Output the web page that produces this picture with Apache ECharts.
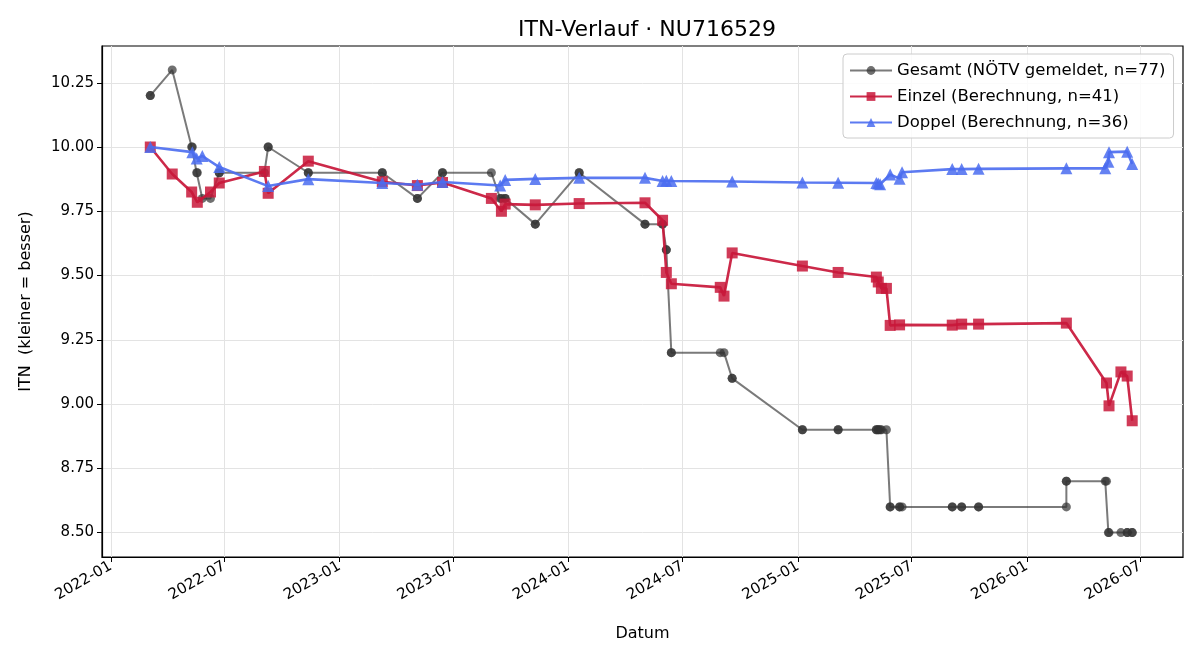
<!DOCTYPE html>
<html>
<head>
<meta charset="utf-8">
<title>ITN-Verlauf</title>
<script src="https://cdn.jsdelivr.net/npm/echarts@6/dist/echarts.min.js"></script>
<style>
    html,body{margin:0;padding:0;background:#fff;}
    #chart{width:1200px;height:660px;}
</style>
</head>
<body>
<div id="chart"></div>
<script>
// Gesamt (NÖTV gemeldet) - gleiche Termine mehrfach, weil Einzel und Doppel
var gesamtDaten = [
    ['2022-03-05',10.2],['2022-03-05',10.2],['2022-04-09',10.3],
    ['2022-05-10',10.0],['2022-05-11',10.0],['2022-05-18',9.9],['2022-05-19',9.9],
    ['2022-05-27',9.8],['2022-06-09',9.8],['2022-06-23',9.9],['2022-06-23',9.9],
    ['2022-09-03',9.9],['2022-09-09',10.0],['2022-09-09',10.0],
    ['2022-11-12',9.9],['2022-11-12',9.9],['2023-03-10',9.9],['2023-03-10',9.9],
    ['2023-05-05',9.8],['2023-05-05',9.8],['2023-06-14',9.9],['2023-06-14',9.9],
    ['2023-08-31',9.9],['2023-09-14',9.8],['2023-09-16',9.8],['2023-09-22',9.8],['2023-09-22',9.8],
    ['2023-11-09',9.7],['2023-11-09',9.7],['2024-01-18',9.9],['2024-01-18',9.9],
    ['2024-05-02',9.7],['2024-05-02',9.7],['2024-05-30',9.7],['2024-05-30',9.7],
    ['2024-06-05',9.6],['2024-06-05',9.6],['2024-06-13',9.2],['2024-06-13',9.2],
    ['2024-08-30',9.2],['2024-09-05',9.2],['2024-09-18',9.1],['2024-09-18',9.1],
    ['2025-01-08',8.9],['2025-01-08',8.9],['2025-03-06',8.9],['2025-03-06',8.9],
    ['2025-05-06',8.9],['2025-05-06',8.9],['2025-05-09',8.9],['2025-05-09',8.9],
    ['2025-05-12',8.9],['2025-05-14',8.9],['2025-05-22',8.9],
    ['2025-05-28',8.6],['2025-05-28',8.6],['2025-06-12',8.6],['2025-06-12',8.6],['2025-06-16',8.6],
    ['2025-09-04',8.6],['2025-09-04',8.6],['2025-09-19',8.6],['2025-09-19',8.6],
    ['2025-10-16',8.6],['2025-10-16',8.6],['2026-03-05',8.6],['2026-03-05',8.7],['2026-03-05',8.7],
    ['2026-05-06',8.7],['2026-05-08',8.7],['2026-05-11',8.5],['2026-05-12',8.5],
    ['2026-05-31',8.5],['2026-06-10',8.5],['2026-06-10',8.5],['2026-06-18',8.5],['2026-06-18',8.5]
];

// Einzel (Berechnung)
var einzelDatum = ['2022-03-05','2022-04-09','2022-05-10','2022-05-19','2022-06-09','2022-06-23',
    '2022-09-03','2022-09-09','2022-11-12','2023-03-10','2023-05-05','2023-06-14','2023-08-31',
    '2023-09-16','2023-09-22','2023-11-09','2024-01-18','2024-05-02','2024-05-30','2024-06-05',
    '2024-06-13','2024-08-30','2024-09-05','2024-09-18','2025-01-08','2025-03-06','2025-05-06',
    '2025-05-09','2025-05-14','2025-05-22','2025-05-28','2025-06-12','2025-09-04','2025-09-19',
    '2025-10-16','2026-03-05','2026-05-08','2026-05-12','2026-05-31','2026-06-10','2026-06-18'];
var einzelWert = [10.00,9.895,9.825,9.785,9.825,9.86,9.905,9.82,9.945,9.865,9.85,9.862,9.80,
    9.75,9.778,9.775,9.78,9.783,9.715,9.512,9.468,9.454,9.42,9.588,9.537,9.512,9.494,
    9.475,9.45,9.45,9.306,9.308,9.307,9.311,9.311,9.315,9.082,8.993,9.125,9.109,8.935];

// Doppel (Berechnung)
var doppelDatum = ['2022-03-05','2022-05-11','2022-05-18','2022-05-27','2022-06-23','2022-09-09',
    '2022-11-12','2023-03-10','2023-05-05','2023-06-14','2023-09-14','2023-09-22','2023-11-09',
    '2024-01-18','2024-05-02','2024-05-30','2024-06-05','2024-06-13','2024-09-18','2025-01-08',
    '2025-03-06','2025-05-06','2025-05-09','2025-05-12','2025-05-28','2025-06-12','2025-06-16',
    '2025-09-04','2025-09-19','2025-10-16','2026-03-05','2026-05-06','2026-05-11','2026-05-12',
    '2026-06-10','2026-06-18'];
var doppelWert = [10.00,9.98,9.955,9.965,9.922,9.848,9.875,9.86,9.853,9.864,9.85,9.872,9.876,
    9.88,9.88,9.868,9.869,9.868,9.866,9.862,9.861,9.86,9.858,9.855,9.893,9.877,9.902,
    9.914,9.914,9.915,9.917,9.917,9.943,9.98,9.982,9.934];

// Achsen
var xTicks = ['2022-01','2022-07','2023-01','2023-07','2024-01','2024-07','2025-01','2025-07','2026-01','2026-07'];
var yTicks = [8.50,8.75,9.00,9.25,9.50,9.75,10.00,10.25];

var font = 'DejaVu Sans';

function ts(s){
    var p = s.split('-');
    return new Date(+p[0], +p[1]-1, +(p[2]||1)).getTime();
}
function paar(datum, wert){
    var out = [];
    for(var i=0;i<datum.length;i++){ out.push([ts(datum[i]), wert[i]]); }
    return out;
}

var chart = echarts.init(document.getElementById('chart'));

var option = {
    backgroundColor:'#fff',
    animation:false,
    textStyle:{fontFamily:font},
    title:{
        text:'ITN-Verlauf · NU716529',
        left:642,
        top:14,
        textAlign:'center',
        textStyle:{fontFamily:font,fontSize:22,fontWeight:'normal',color:'#000'}
    },
    legend:{
        orient:'vertical',
        left:843,
        top:54,
        padding:[8,8,7,6],
        itemWidth:42,
        itemHeight:11,
        itemGap:9,
        backgroundColor:'rgba(255,255,255,0.85)',
        borderColor:'#cccccc',
        borderWidth:1,
        borderRadius:4,
        selectedMode:false,
        textStyle:{fontFamily:font,fontSize:16.5,color:'#000'},
        data:['Gesamt (NÖTV gemeldet, n=77)','Einzel (Berechnung, n=41)','Doppel (Berechnung, n=36)']
    },
    grid:{
        left:102,
        right:17,
        top:46,
        bottom:103,
        show:true,
        borderColor:'#000',
        borderWidth:1.2,
        containLabel:false
    },
    xAxis:{
        type:'value',
        min:ts('2021-12-18'),
        max:ts('2026-09-07'),
        name:'Datum',
        nameLocation:'middle',
        nameGap:69,
        nameTextStyle:{fontFamily:font,fontSize:16,color:'#000'},
        axisLine:{show:true,lineStyle:{color:'#000',width:1.2}},
        axisTick:{show:true,length:5,lineStyle:{color:'#000'},customValues:xTicks.map(ts)},
        axisLabel:{
            customValues:xTicks.map(ts),
            rotate:30,
            margin:8,
            fontFamily:font,
            fontSize:15,
            color:'#000',
            formatter:function(v){
                var d = new Date(v);
                var m = d.getMonth()+1;
                return d.getFullYear()+'-'+(m<10?'0'+m:m);
            }
        },
        splitLine:{show:true,lineStyle:{color:'#e3e3e3',width:1}}
    },
    yAxis:{
        type:'value',
        min:8.405,
        max:10.393,
        name:'ITN  (kleiner = besser)',
        nameLocation:'middle',
        nameGap:68,
        nameTextStyle:{fontFamily:font,fontSize:16,color:'#000'},
        axisLine:{show:true,lineStyle:{color:'#000',width:1.2}},
        axisTick:{show:true,length:5,lineStyle:{color:'#000'},customValues:yTicks},
        axisLabel:{
            customValues:yTicks,
            margin:8,
            fontFamily:font,
            fontSize:15,
            color:'#000',
            formatter:function(v){ return v.toFixed(2); }
        },
        splitLine:{show:true,lineStyle:{color:'#e3e3e3',width:1}}
    },
    series:[
        {
            name:'Gesamt (NÖTV gemeldet, n=77)',
            type:'line',
            z:2,
            data:gesamtDaten.map(function(d){ return [ts(d[0]), d[1]]; }),
            symbol:'circle',
            symbolSize:9,
            color:'#333333',
            lineStyle:{color:'#333333',width:2,opacity:0.65},
            itemStyle:{color:'#333333',opacity:0.7}
        },
        {
            name:'Einzel (Berechnung, n=41)',
            type:'line',
            z:3,
            data:paar(einzelDatum, einzelWert),
            symbol:'rect',
            symbolSize:11,
            color:'#c8173a',
            lineStyle:{color:'#c8173a',width:2.6,opacity:0.92},
            itemStyle:{color:'#c8173a',opacity:0.85}
        },
        {
            name:'Doppel (Berechnung, n=36)',
            type:'line',
            z:4,
            data:paar(doppelDatum, doppelWert),
            symbol:'triangle',
            symbolSize:12,
            color:'#4a6cf0',
            lineStyle:{color:'#4a6cf0',width:2.6,opacity:0.9},
            itemStyle:{color:'#4a6cf0',opacity:0.85}
        }
    ]
};
chart.setOption(option);
</script>
</body>
</html>
